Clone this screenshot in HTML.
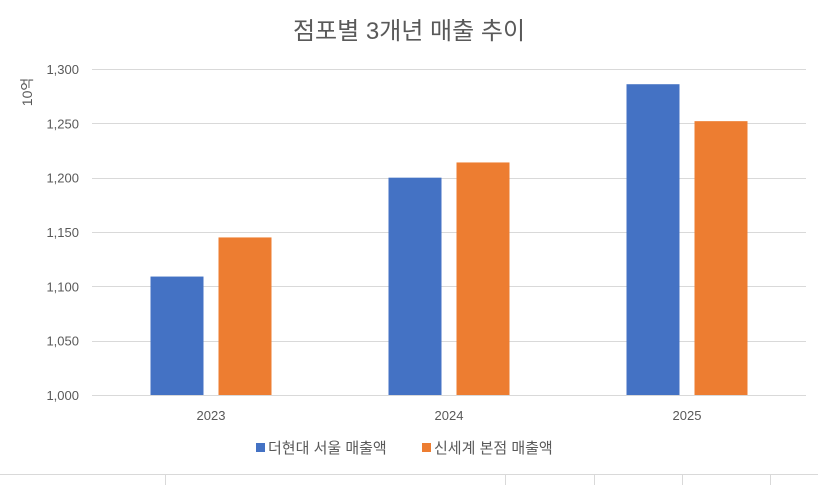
<!DOCTYPE html>
<html><head><meta charset="utf-8">
<style>
html,body{margin:0;padding:0;background:#fff;}
body{width:818px;height:485px;overflow:hidden;font-family:"Liberation Sans","Noto Sans CJK KR",sans-serif;}
</style></head>
<body>
<svg id="chart" width="818" height="485" xmlns="http://www.w3.org/2000/svg" font-family="Liberation Sans, Noto Sans CJK KR, sans-serif">
<text x="409" y="39" text-anchor="middle" font-size="24" fill="#595959">점포별 3개년 매출 추이</text>
<text transform="translate(32,92) rotate(-90)" text-anchor="middle" font-size="14" fill="#595959">10억</text>
<g id="grid"></g><g id="bars"></g><g id="labels"></g>
<g>
<rect x="256" y="443" width="9" height="9" fill="#4472C4"/>
<text x="268" y="453" font-size="15" fill="#595959">더현대 서울 매출액</text>
<rect x="422" y="443" width="9" height="9" fill="#ED7D31"/>
<text x="434" y="453" font-size="15" fill="#595959">신세계 본점 매출액</text>
</g>
<g stroke="#d9d9d9" stroke-width="1">
<line x1="0" y1="474.5" x2="818" y2="474.5"/>
<line x1="165.5" y1="474" x2="165.5" y2="485"/>
<line x1="505.5" y1="474" x2="505.5" y2="485"/>
<line x1="594.5" y1="474" x2="594.5" y2="485"/>
<line x1="682.5" y1="474" x2="682.5" y2="485"/>
<line x1="770.5" y1="474" x2="770.5" y2="485"/>
</g>
</svg>
<script>
const categories=["2023","2024","2025"];
const hyundai=[1109,1200,1286];
const shinsegae=[1145,1214,1252];
const yTicks=[1000,1050,1100,1150,1200,1250,1300];
const yTickLabels=["1,000","1,050","1,100","1,150","1,200","1,250","1,300"];
const NS="http://www.w3.org/2000/svg";
const L=92,R=806,T=69,B=395,ymin=1000,ymax=1300;
const y=v=>B-(v-ymin)/(ymax-ymin)*(B-T);
const bw=(R-L)/categories.length;
const x=i=>L+bw*(i+0.5);
function mk(t,a){const e=document.createElementNS(NS,t);for(const k in a)e.setAttribute(k,a[k]);return e;}
const grid=document.getElementById('grid'),bars=document.getElementById('bars'),labels=document.getElementById('labels');
yTicks.forEach((v,i)=>{
 const yy=Math.round(y(v))+0.5;
 const ln=mk('line',{x1:L,x2:R,y1:yy,y2:yy,stroke:'#d9d9d9','stroke-width':1});
 
 
 grid.appendChild(ln);
 const t=mk('text',{x:79,y:y(v)+5,'text-anchor':'end','font-size':13,fill:'#595959'});
 
 
 t.textContent=yTickLabels[i];labels.appendChild(t);
});
categories.forEach((c,i)=>{
 const cx=x(i);
 const b1=mk('rect',{x:cx-60.5,y:y(hyundai[i]),width:53,height:B-y(hyundai[i]),fill:'#4472C4'});
 
 
 bars.appendChild(b1);
 const b2=mk('rect',{x:cx+7.5,y:y(shinsegae[i]),width:53,height:B-y(shinsegae[i]),fill:'#ED7D31'});
 
 
 bars.appendChild(b2);
 const t=mk('text',{x:cx,y:420,'text-anchor':'middle','font-size':13,fill:'#595959'});
 
 
 t.textContent=c;labels.appendChild(t);
});
</script>
</body></html>
